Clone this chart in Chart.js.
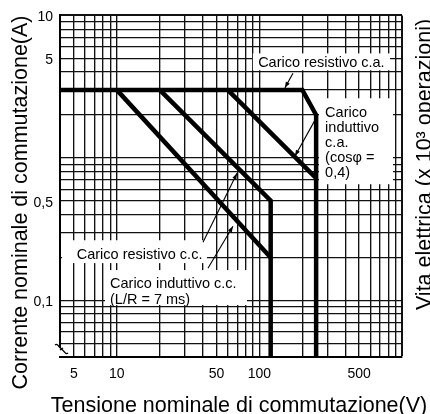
<!DOCTYPE html>
<html><head><meta charset="utf-8">
<script src="https://cdn.jsdelivr.net/npm/chart.js@4.4.0/dist/chart.umd.min.js"></script>
<style>
html,body{margin:0;padding:0;background:#fff;overflow:hidden;}
#wrap{position:relative;width:430px;height:414px;}
</style></head><body>
<div id="wrap"><canvas id="c" width="430" height="414"></canvas></div>
<script>
// ---- data (V = switching voltage, A = switching current) ----
const voltsResistiveAC = [4, 200, 250, 250];
const ampsResistiveAC  = [3, 3, 2, 0.04];
const voltsInductiveAC = [60, 250];
const ampsInductiveAC  = [3, 0.72];
const voltsResistiveDC = [20, 120, 120];
const ampsResistiveDC  = [3, 0.5, 0.04];
const voltsInductiveDC = [10, 120];
const ampsInductiveDC  = [3, 0.2];

const xGridValues = [4,5,6,7,8,9,10,20,30,40,50,60,70,80,90,100,200,300,400,500,600,700,800,900,1000];
const yGridValues = [0.04,0.05,0.06,0.07,0.08,0.09,0.1,0.2,0.3,0.4,0.5,0.6,0.7,0.8,0.9,1,2,3,4,5,6,7,8,9,10];
const xTickValues = [5, 10, 50, 100, 500];
const xTickLabels = ['5', '10', '50', '100', '500'];
const yTickValues = [0.1, 0.5, 5, 10];
const yTickLabels = ['0,1', '0,5', '5', '10'];

const xTitle = 'Tensione nominale di commutazione(V)';
const yTitle = 'Corrente nominale di commutazione(A)';
const y2Title = 'Vita elettrica (x 10³ operazioni)';

const seriesNames = ['Carico resistivo c.a.', 'Carico induttivo c.a. (cosφ = 0,4)', 'Carico resistivo c.c.', 'Carico induttivo c.c. (L/R = 7 ms)'];

// ---- annotation layout (data coordinates: volts, amps) ----
const FONT = "'Liberation Sans', Arial, Helvetica, sans-serif";
const notes = [
  {lines:['Carico resistivo c.a.'], at:[98, 4.32], box:[90, 5.41, 824, 4.12],
   pointer:[[172, 3.92],[151, 3.1]]},
  {lines:['Carico','induttivo','c.a.','(cosφ =','0,4)'], at:[289, 1.94], box:[262, 2.62, 865, 0.653],
   pointer:[[245.5, 1.84],[177.7, 1.03]]},
  {lines:['Carico resistivo c.c.'], at:[5.24, 0.194], box:[4.13, 0.264, 42.9, 0.1825],
   pointer:[[40.25, 0.256],[69.7, 0.78]]},
  {lines:['Carico induttivo c.c.','(L/R = 7 ms)'], at:[8.97, 0.1212], box:[8.27, 0.163, 81.9, 0.0926],
   pointer:[[43.6, 0.168],[65.3, 0.331]]}
];

function pts(xs, ys){ return xs.map((x,i)=>({x:x, y:ys[i]})); }
function labelFor(v, vals, labs){
  for (let i=0;i<vals.length;i++){ if (Math.abs(v-vals[i]) < vals[i]*1e-6) return labs[i]; }
  return '';
}
function isEdge(v, e){ return Math.abs(v-e) < e*1e-6; }

const lineStyle = {borderColor:'#000', borderWidth:4.5, pointRadius:0, fill:false, tension:0,
  borderJoinStyle:'miter', borderCapStyle:'butt', showLine:true};

const annotationPlugin = {
  id:'notes',
  beforeDatasetsDraw(chart){
    const ctx = chart.ctx, xs = chart.scales.x, ys = chart.scales.y;
    ctx.save();
    ctx.fillStyle = '#fff';
    notes.forEach(n=>{
      const x0 = xs.getPixelForValue(n.box[0]), y0 = ys.getPixelForValue(n.box[1]);
      const x1 = xs.getPixelForValue(n.box[2]), y1 = ys.getPixelForValue(n.box[3]);
      ctx.fillRect(x0, y0, x1-x0, y1-y0);
    });
    ctx.restore();
  },
  afterDatasetsDraw(chart){
    const ctx = chart.ctx, xs = chart.scales.x, ys = chart.scales.y;
    ctx.save();
    ctx.fillStyle = '#000';
    ctx.strokeStyle = '#000';
    ctx.font = '14.5px ' + FONT;
    ctx.textBaseline = 'alphabetic';
    ctx.textAlign = 'left';
    notes.forEach(n=>{
      const tx = xs.getPixelForValue(n.at[0]), ty = ys.getPixelForValue(n.at[1]);
      n.lines.forEach((l,i)=> ctx.fillText(l, tx, ty + i*15.1));
      const p0x = xs.getPixelForValue(n.pointer[0][0]), p0y = ys.getPixelForValue(n.pointer[0][1]);
      const p1x = xs.getPixelForValue(n.pointer[1][0]), p1y = ys.getPixelForValue(n.pointer[1][1]);
      ctx.lineWidth = 1.1;
      ctx.beginPath(); ctx.moveTo(p0x,p0y); ctx.lineTo(p1x,p1y); ctx.stroke();
      const ang = Math.atan2(p1y-p0y, p1x-p0x);
      const L = 6, W = 2.2;
      ctx.beginPath();
      ctx.moveTo(p1x, p1y);
      ctx.lineTo(p1x - L*Math.cos(ang) + W*Math.sin(ang), p1y - L*Math.sin(ang) - W*Math.cos(ang));
      ctx.lineTo(p1x - L*Math.cos(ang) - W*Math.sin(ang), p1y - L*Math.sin(ang) + W*Math.cos(ang));
      ctx.closePath(); ctx.fill();
    });
    // axis break mark at the bottom-left corner
    const ca = chart.chartArea;
    ctx.fillStyle = '#fff';
    ctx.fillRect(ca.left-2, ca.bottom-9, 5, 8);
    ctx.lineWidth = 1.2;
    [[-1,-10],[4,-5]].forEach(o=>{
      const bx = ca.left + o[0], by = ca.bottom + o[1];
      ctx.beginPath();
      ctx.moveTo(bx-4, by-2);
      ctx.bezierCurveTo(bx-1, by-5, bx+1, by+4, bx+4, by+1);
      ctx.stroke();
    });
    ctx.restore();
  },
  afterDraw(chart){
    const ctx = chart.ctx;
    ctx.save();
    ctx.fillStyle = '#000';
    ctx.font = '21.5px ' + FONT;
    ctx.textAlign = 'center';
    ctx.textBaseline = 'alphabetic';
    ctx.fillText(xTitle, 239, 412);
    ctx.save(); ctx.translate(27, 202.5); ctx.rotate(-Math.PI/2); ctx.fillText(yTitle, 0, 0); ctx.restore();
    ctx.save(); ctx.translate(431, 164.5); ctx.rotate(-Math.PI/2); ctx.fillText(y2Title, 0, 0); ctx.restore();
    ctx.restore();
  }
};

const gridWidth = (edge) => (c) => (c.tick && isEdge(c.tick.value, edge)) ? 2 : 1.35;

new Chart(document.getElementById('c'), {
  type:'line',
  data:{ datasets:[
    Object.assign({label:seriesNames[0], data:pts(voltsResistiveAC, ampsResistiveAC)}, lineStyle),
    Object.assign({label:seriesNames[1], data:pts(voltsInductiveAC, ampsInductiveAC)}, lineStyle),
    Object.assign({label:seriesNames[2], data:pts(voltsResistiveDC, ampsResistiveDC)}, lineStyle),
    Object.assign({label:seriesNames[3], data:pts(voltsInductiveDC, ampsInductiveDC)}, lineStyle)
  ]},
  options:{
    responsive:false, animation:false, devicePixelRatio:1,
    layout:{padding:{left:0, right:28, top:15, bottom:0}},
    plugins:{legend:{display:false}, tooltip:{enabled:false}, title:{display:false}},
    scales:{
      x:{type:'logarithmic', min:4, max:1000,
        afterBuildTicks:(s)=>{ s.ticks = xGridValues.map(v=>({value:v})); },
        afterFit:(s)=>{ s.height = 57; },
        ticks:{autoSkip:false, maxRotation:0, minRotation:0, padding:9, color:'#000',
          font:{family:FONT, size:14}, callback:(v)=>labelFor(v, xTickValues, xTickLabels)},
        grid:{color:'#111', lineWidth:gridWidth(1000), drawTicks:false},
        border:{display:true, color:'#000', width:2}
      },
      y:{type:'logarithmic', min:0.04, max:10,
        afterBuildTicks:(s)=>{ s.ticks = yGridValues.map(v=>({value:v})); },
        afterFit:(s)=>{ s.width = 60; },
        ticks:{autoSkip:false, padding:7, labelOffset:2, color:'#000',
          font:{family:FONT, size:14}, callback:(v)=>labelFor(v, yTickValues, yTickLabels)},
        grid:{color:'#111', lineWidth:gridWidth(10), drawTicks:false},
        border:{display:true, color:'#000', width:2}
      }
    }
  },
  plugins:[annotationPlugin]
});
</script>
</body></html>
